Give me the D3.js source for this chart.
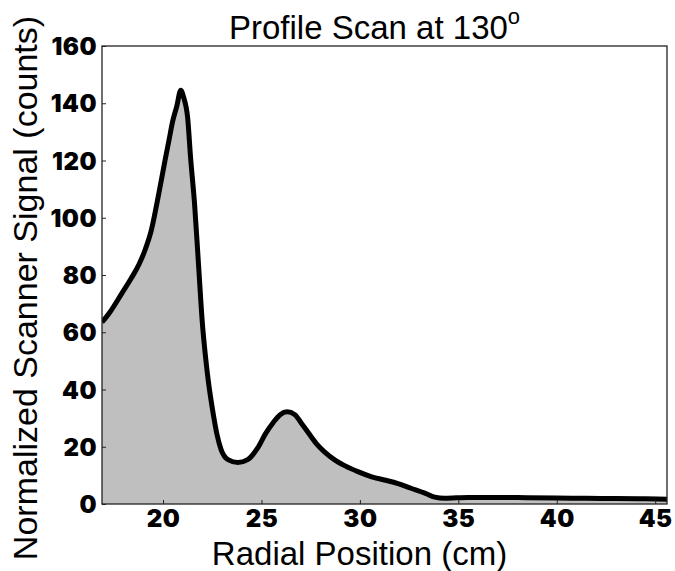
<!DOCTYPE html>
<html><head><meta charset="utf-8">
<script src="https://cdn.jsdelivr.net/npm/d3@7"></script>
<style>
html,body{margin:0;padding:0;background:#fff;}
svg{display:block;}
</style></head>
<body>
<script>
// Data
const radialPosition = [16.9,17.3,17.9,18.4,18.8,19.1,19.4,19.8,20.1,20.3,20.5,20.7,20.9,21.05,21.25,21.4,21.6,21.8,22.0,22.15,22.3,22.55,22.75,22.95,23.3,23.8,24.3,24.8,25.2,25.6,25.95,26.3,26.7,27.0,27.4,27.8,28.2,28.7,29.2,29.9,30.6,31.3,31.9,32.6,33.3,33.8,34.3,35.5,37,38.5,40,41.5,43,44.5,45.6];
const scannerSignal  = [63.5,67,73.5,79,84,89,95.5,109,120,127,134,139,144.5,142,135,121,105,84,63,52,43,31.5,24,19,15.5,14.5,15.5,19.5,24.5,28.5,31.2,32.2,31.2,28.5,24.7,21,18.2,15.5,13.5,11.3,9.5,8.3,7.2,5.5,3.8,2.4,2.0,2.3,2.3,2.2,2.1,2.0,1.9,1.8,1.7];
const xTicks = [20,25,30,35,40,45];
const yTicks = [0,20,40,60,80,100,120,140,160];
const xDomain = [16.9, 45.6];
const yDomain = [0, 160];
const titleText = "Profile Scan at 130";
const titleSup = "o";
const xLabel = "Radial Position (cm)";
const yLabel = "Normalized Scanner Signal (counts)";

const W = 675, H = 571;
const L = 102, R = 667, T = 46, B = 504;

const svg = d3.select("body").append("svg").attr("width", W).attr("height", H);
const x = d3.scaleLinear().domain(xDomain).range([L, R]);
const y = d3.scaleLinear().domain(yDomain).range([B, T]);

const pts = radialPosition.map((d, i) => [d, scannerSignal[i]]);

svg.append("clipPath").attr("id", "clip").append("rect")
  .attr("x", L).attr("y", T).attr("width", R - L).attr("height", B - T);

const g = svg.append("g").attr("clip-path", "url(#clip)");
g.append("path").datum(pts)
  .attr("fill", "#bfbfbf")
  .attr("d", d3.area().x(d => x(d[0])).y0(y(0)).y1(d => y(d[1])).curve(d3.curveMonotoneX));
g.append("path").datum(pts)
  .attr("fill", "none").attr("stroke", "#000").attr("stroke-width", 5)
  .attr("stroke-linejoin", "round")
  .attr("d", d3.line().x(d => x(d[0])).y(d => y(d[1])).curve(d3.curveMonotoneX));

// frame
svg.append("rect").attr("x", L).attr("y", T).attr("width", R - L).attr("height", B - T)
  .attr("fill", "none").attr("stroke", "#222").attr("stroke-width", 1.3);

const tickFont = "Inter, Lato, 'DejaVu Sans', sans-serif";

// x axis
const xAxis = svg.append("g").attr("transform", `translate(0,${B})`)
  .call(d3.axisBottom(x).tickValues(xTicks).tickSize(-4).tickPadding(0).tickFormat(d3.format("d")));
xAxis.select(".domain").remove();
xAxis.selectAll(".tick line").attr("stroke", "#222");
xAxis.selectAll(".tick text").attr("font-family", tickFont).attr("font-weight", 900)
  .attr("font-size", 24).attr("fill", "#000").attr("dy", null).attr("y", 23)
  .attr("letter-spacing", 0.5);

// y axis
const yAxis = svg.append("g").attr("transform", `translate(${L},0)`)
  .call(d3.axisLeft(y).tickValues(yTicks).tickSize(-4).tickPadding(5).tickFormat(d3.format("d")));
yAxis.select(".domain").remove();
yAxis.selectAll(".tick line").attr("stroke", "#222");
yAxis.selectAll(".tick text").attr("font-family", tickFont).attr("font-weight", 900)
  .attr("font-size", 24).attr("fill", "#000").attr("dy", "0.36em")
  .attr("letter-spacing", 0.5);

const labelFont = "'Liberation Sans', Arial, sans-serif";

// title
const title = svg.append("text").attr("x", 229).attr("y", 39)
  .attr("font-family", labelFont).attr("font-size", 33).attr("fill", "#000");
title.append("tspan").text(titleText);
title.append("tspan").attr("font-size", 22).attr("dy", -15).text(titleSup);

// x label
svg.append("text").attr("x", (L + R) / 2 - 25).attr("y", 565).attr("text-anchor", "middle")
  .attr("font-family", labelFont).attr("font-size", 33).attr("fill", "#000").text(xLabel);

// y label
svg.append("text").attr("transform", `translate(37,288) rotate(-90)`).attr("text-anchor", "middle")
  .attr("font-family", labelFont).attr("font-size", 34).attr("fill", "#000").text(yLabel);
</script>
</body></html>
